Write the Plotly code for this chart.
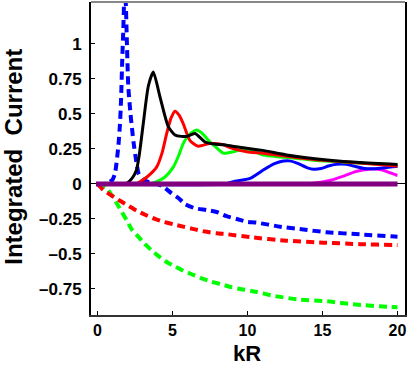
import plotly.graph_objects as go

# Solid curves (integrated current vs kR)
black_x = [0, 1.5, 1.95, 2.3, 2.6, 2.8, 3.05, 3.39, 3.72, 4.17, 4.72, 5.17, 5.6, 5.94, 6.5, 7.17,
           7.8, 8.39, 9.0, 9.94, 11, 12.6, 14.5, 16.4, 18, 19.5, 20]
black_y = [0, 0, 0.005, 0.04, 0.1, 0.22, 0.43, 0.70, 0.80, 0.62, 0.41, 0.35, 0.34, 0.34, 0.36, 0.30,
           0.285, 0.28, 0.27, 0.255, 0.24, 0.207, 0.18, 0.16, 0.15, 0.143, 0.14]

red_x = [0, 2.5, 2.83, 3.3, 3.94, 4.3, 4.61, 4.9, 5.17, 5.45, 5.72, 6.17, 6.72, 7.5, 8.4, 8.83,
         9.94, 11.05, 12.5, 14, 15.5, 17.7, 19.9, 20]
red_y = [0, 0, 0.016, 0.05, 0.12, 0.22, 0.36, 0.47, 0.52, 0.49, 0.43, 0.31, 0.27, 0.29, 0.28, 0.26,
         0.23, 0.22, 0.2, 0.18, 0.165, 0.148, 0.128, 0.127]

green_x = [0, 3.5, 3.94, 4.5, 5.05, 5.4, 5.72, 6.1, 6.39, 6.6, 6.9, 7.17, 7.5, 7.83, 8.39, 9.05,
           9.5, 9.94, 10.5, 11.05, 12.5, 14.4, 16, 17.7, 19.9, 20]
green_y = [0, 0, 0.016, 0.05, 0.12, 0.2, 0.29, 0.35, 0.375, 0.386, 0.37, 0.34, 0.3, 0.27, 0.22, 0.23,
           0.243, 0.248, 0.23, 0.207, 0.19, 0.17, 0.16, 0.148, 0.136, 0.135]

blue_x = [0, 8.5, 9.05, 10.17, 11.05, 11.8, 12.4, 12.8, 13.4, 14.0, 14.4, 14.9, 15.4, 15.9, 16.6,
          17.2, 17.7, 18.3, 18.8, 19.4, 19.9, 20]
blue_y = [0, 0, 0.016, 0.04, 0.1, 0.145, 0.164, 0.165, 0.145, 0.115, 0.105, 0.11, 0.128, 0.14, 0.14,
          0.125, 0.112, 0.108, 0.112, 0.12, 0.124, 0.124]

magenta_x = [0, 14.0, 14.4, 15.5, 16.5, 17.2, 17.7, 18.4, 19.0, 19.5, 19.9, 20]
magenta_y = [0, 0, 0.005, 0.025, 0.06, 0.088, 0.1, 0.107, 0.1, 0.08, 0.064, 0.062]

purple_x = [-0.1, 20]
purple_y = [0, 0]

# Dashed curves
blue_d_x = [0, 0.6, 1.0, 1.17, 1.39, 1.5, 1.57, 1.65, 1.72, 1.8, 1.88, 1.95, 2.05, 2.2, 2.4, 2.6,
            2.75, 3.0, 3.5, 4.0, 4.39, 4.94, 5.39, 5.83, 6.5, 7.28, 7.94, 8.6, 9.28, 9.94, 10.6,
            12.17, 13.6, 15.3, 17.5, 19.83, 20]
blue_d_y = [0, 0.002, 0.03, 0.076, 0.27, 0.43, 0.6, 0.89, 1.1, 1.36, 1.3, 1.05, 0.7, 0.5, 0.3, 0.15,
            0.07, 0.035, 0.01, 0.0, -0.02, -0.067, -0.1, -0.143, -0.174, -0.186, -0.2, -0.23, -0.25,
            -0.27, -0.276, -0.305, -0.324, -0.345, -0.36, -0.376, -0.377]

red_d_x = [0, 0.39, 1.5, 2.05, 2.6, 3.17, 3.83, 4.39, 5.05, 5.72, 6.5, 7.17, 7.94, 8.72, 10.17,
           12.6, 15.05, 17.5, 19.83, 20]
red_d_y = [0, -0.043, -0.12, -0.155, -0.19, -0.22, -0.25, -0.27, -0.288, -0.305, -0.324, -0.34,
           -0.352, -0.36, -0.38, -0.405, -0.419, -0.43, -0.436, -0.437]

green_d_x = [0, 0.6, 0.94, 1.28, 1.61, 1.95, 2.28, 2.67, 3.12, 3.57, 4.05, 4.5, 5.17, 5.72, 6.28,
             6.94, 7.6, 8.28, 8.94, 9.6, 10.28, 11.7, 13.3, 15.5, 17.05, 19.5, 20]
green_d_y = [0, -0.03, -0.079, -0.138, -0.198, -0.26, -0.324, -0.371, -0.424, -0.471, -0.514,
             -0.55, -0.59, -0.62, -0.645, -0.674, -0.698, -0.717, -0.738, -0.752, -0.764, -0.798,
             -0.824, -0.84, -0.86, -0.879, -0.88]

y_ticks = [-0.75, -0.5, -0.25, 0, 0.25, 0.5, 0.75, 1]
y_labels = ["\u20130.75", "\u20130.5", "\u20130.25", "0", "0.25", "0.5", "0.75", "1"]
x_ticks = [0, 5, 10, 15, 20]

fig = go.Figure()

dash = "8px,5px"
for xs, ys, c in [(green_d_x, green_d_y, "#00ff00"), (red_d_x, red_d_y, "#ff0000"),
                  (blue_d_x, blue_d_y, "#0000ff")]:
    fig.add_trace(go.Scatter(x=xs, y=ys, mode="lines",
                             line=dict(color=c, width=4, dash=dash, shape="spline", smoothing=0.5)))

for xs, ys, c in [(magenta_x, magenta_y, "#ff00ff"), (blue_x, blue_y, "#0000ff"),
                  (green_x, green_y, "#00ff00"), (red_x, red_y, "#ff0000"),
                  (black_x, black_y, "#000000")]:
    fig.add_trace(go.Scatter(x=xs, y=ys, mode="lines",
                             line=dict(color=c, width=3, shape="spline", smoothing=0.6)))

fig.add_trace(go.Scatter(x=purple_x, y=purple_y, mode="lines",
                         line=dict(color="#800080", width=5)))

tick_font = dict(family="Liberation Sans, Arial", size=17, color="black", weight="bold")
x_tick_font = dict(family="Liberation Sans, Arial", size=16, color="black", weight="bold")
title_font = dict(family="Liberation Sans, Arial", size=24, color="black", weight="bold")

fig.update_layout(
    width=409, height=368,
    margin=dict(l=91, r=4, t=2, b=53),
    plot_bgcolor="white", paper_bgcolor="white",
    showlegend=False,
    xaxis=dict(range=[-0.433, 20.5], tickvals=x_ticks, ticks="inside", ticklen=4,
               tickcolor="black", showgrid=False, zeroline=False,
               showline=True, linecolor="#333333", linewidth=2, tickfont=x_tick_font),
    yaxis=dict(range=[-0.936, 1.3], tickvals=y_ticks, ticktext=y_labels, ticks="inside",
               ticklen=4, tickcolor="black", showgrid=False, zeroline=True,
               zerolinecolor="black", zerolinewidth=1, showline=True, mirror=True,
               linecolor="black", linewidth=2, tickfont=tick_font, ticklabelstandoff=4),
    shapes=[dict(type="line", xref="paper", yref="paper", x0=0, x1=1, y0=1, y1=1,
                 line=dict(color="#888888", width=2))],
    annotations=[
        dict(text="Integrated  Current", xref="paper", yref="paper", x=-0.248, y=0.506,
             textangle=-90, showarrow=False, xanchor="center", yanchor="middle",
             font=title_font),
        dict(text="kR", xref="paper", yref="paper", x=0.497, y=-0.169,
             showarrow=False, xanchor="center", yanchor="bottom",
             font=dict(family="Liberation Sans, Arial", size=22, color="black", weight="bold")),
    ],
)

fig.write_html("out.html", config={"displayModeBar": False},
               post_script="document.body.style.margin='0';")
